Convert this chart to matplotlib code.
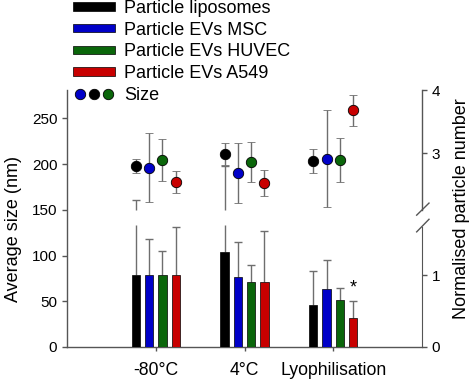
import numpy as np
import matplotlib
matplotlib.use("Agg")
import matplotlib.pyplot as plt
from matplotlib.patches import Patch
from matplotlib.lines import Line2D
from matplotlib.legend_handler import HandlerTuple

plt.rcParams['font.family'] = ['Liberation Sans', 'DejaVu Sans']

# -----------------------------
# DATA
# -----------------------------
conditions = ['-80°C', '4°C', 'Lyophilisation']
series = ['Particle liposomes', 'Particle EVs MSC',
          'Particle EVs HUVEC', 'Particle EVs A549']
colors = ['#000000', '#0000c8', '#0a660a', '#c80000']

# normalised particle number (bars, right axis), one row per series
particles = [[1.00, 1.32, 0.58],
             [1.00, 0.97, 0.81],
             [1.00, 0.91, 0.65],
             [1.00, 0.91, 0.41]]
particles_err = [[1.26, 1.48, 0.48],
                 [0.50, 0.49, 0.40],
                 [0.34, 0.23, 0.17],
                 [0.67, 0.70, 0.23]]

# average size in nm (dots, left axis)
sizes = [[198, 211, 203],
         [196, 190, 206],
         [204, 202, 204],
         [180, 179, 259]]
sizes_err = [[8, 12, 13],
             [38, 33, 53],
             [23, 22, 24],
             [12, 14, 17]]

# broken right axis
lo_break, hi_break = 1.7, 2.1


def fwd(v):
    return np.interp(v, [-10, 0, lo_break, hi_break, 3, 10],
                     [-10, 0, lo_break, 1.906, 2.697, 8.85])


def inv(p):
    return np.interp(p, [-10, 0, lo_break, 1.906, 2.697, 8.85],
                     [-10, 0, lo_break, hi_break, 3, 10])


axis_grey = '#555555'
err_grey = '#6e6e6e'

fig = plt.figure(figsize=(4.74, 3.81), dpi=100)
ax = fig.add_axes([67 / 474, 1 - 347 / 381, 355 / 474, 257 / 381])
ax2 = ax.twinx()
ax2.set_yscale('function', functions=(fwd, inv))

x = np.arange(1, len(conditions) + 1)
offsets = [-0.225, -0.075, 0.075, 0.225]
width = 0.095
cap = 0.045

for i in range(len(series)):
    xs = x + offsets[i]
    ax2.bar(xs, particles[i], width, color=colors[i], edgecolor='k',
            linewidth=0.5, zorder=2)
    for xi, v, e in zip(xs, particles[i], particles_err[i]):
        top = v + e
        if top <= lo_break:
            ax2.vlines(xi, v, top, color=err_grey, lw=1, zorder=1)
        else:
            ax2.vlines(xi, v, lo_break, color=err_grey, lw=1, zorder=1)
            ax2.vlines(xi, hi_break, top, color=err_grey, lw=1, zorder=1)
        ax2.hlines(top, xi - cap, xi + cap, color=err_grey, lw=1, zorder=1)

    ax.errorbar(xs, sizes[i], yerr=sizes_err[i], fmt='o', ms=7.5,
                mfc=colors[i], mec='k', mew=0.6, ecolor=err_grey,
                elinewidth=1, capsize=3.2, capthick=1, zorder=3)

# significance mark
ax2.text(x[2] + offsets[3], 0.82, '*', ha='center', va='center',
         fontsize=13)

# left axis
ax.set_xlim(0, 4)
ax.set_ylim(0, 281)
ax.set_yticks([0, 50, 100, 150, 200, 250])
ax.set_xticks(x)
ax.set_xticklabels(conditions, fontsize=12.7)
ax.tick_params(axis='y', labelsize=11, direction='out', length=3.5,
               color=axis_grey, width=1)
ax.tick_params(axis='x', direction='out', length=3, color=axis_grey,
               width=1, pad=8)
ax.set_ylabel('Average size (nm)', fontsize=13)
ax.yaxis.set_label_coords(-0.127, 0.46)
for s in ['top', 'right']:
    ax.spines[s].set_visible(False)
for s in ['left', 'bottom']:
    ax.spines[s].set_color(axis_grey)
    ax.spines[s].set_linewidth(1)

# right axis (broken)
ax2.set_ylim(0, 4)
ax2.set_yticks([0, 1, 3, 4])
ax2.set_yticklabels(['0', '1', '3', '4'])
ax2.yaxis.set_minor_locator(matplotlib.ticker.NullLocator())
ax2.tick_params(axis='y', labelsize=11, direction='out', length=3.5,
                color=axis_grey, width=1)
for s in ['top', 'left', 'bottom']:
    ax2.spines[s].set_visible(False)
ax2.spines['right'].set_color(axis_grey)
ax2.spines['right'].set_bounds(0, 1.674)
ax2.plot([1, 1], [2.09, 4], color=axis_grey, lw=1,
         transform=ax2.get_yaxis_transform(), clip_on=False)
for ya, yb in [(0.513, 0.560), (0.448, 0.497)]:
    ax2.plot([0.985, 1.0197], [ya, yb], color=axis_grey, lw=1,
             transform=ax2.transAxes, clip_on=False)
ax2.set_ylabel('Normalised particle number', fontsize=13)
ax2.yaxis.set_label_coords(1.088, 0.54)

# legend
handles = [Patch(facecolor=c, edgecolor='k', linewidth=0.5) for c in colors]
dots = tuple(Line2D([], [], marker='o', ls='none', ms=7.5, mfc=c,
                    mec='k', mew=0.6) for c in [colors[1], colors[0], colors[2]])
fig.legend(handles + [dots], series + ['Size'],
           handler_map={tuple: HandlerTuple(ndivide=None, pad=0)},
           loc='upper left', bbox_to_anchor=(73 / 474, 1.0),
           frameon=False, fontsize=13, borderpad=0, borderaxespad=0,
           handlelength=2.3, handleheight=0.33, handletextpad=0.55,
           labelspacing=0.26)

fig.savefig('out.png', dpi=100)
